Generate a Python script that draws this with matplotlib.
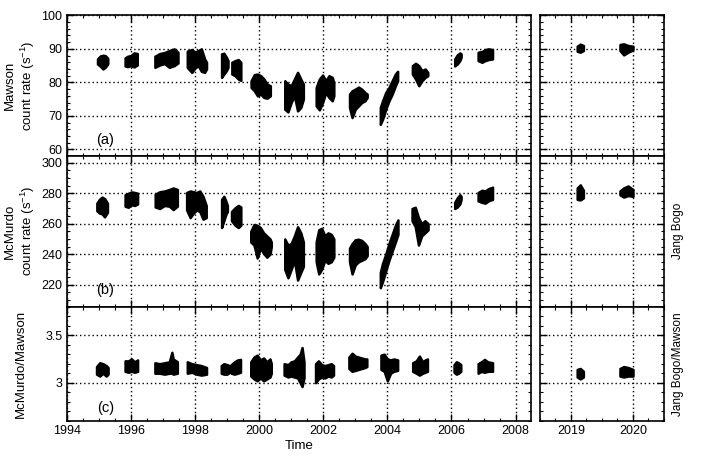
import matplotlib.pyplot as plt
import numpy as np
from matplotlib.ticker import MultipleLocator, FuncFormatter

plt.rcParams['font.family'] = ['Liberation Sans', 'DejaVu Sans']
plt.rcParams['mathtext.fontset'] = 'custom'
plt.rcParams['mathtext.rm'] = 'Liberation Sans'
plt.rcParams['mathtext.default'] = 'regular'

# Each campaign: sample times with lower/upper envelope
# (a) Mawson count rate, 1995-2007
mawson_t = [
    [1994.96, 1995.05, 1995.13, 1995.2, 1995.28],
    [1995.82, 1995.9, 1996.0, 1996.1, 1996.2],
    [1996.75, 1996.9, 1997.05, 1997.2, 1997.35, 1997.47],
    [1997.76, 1997.9, 1998.0, 1998.1, 1998.2, 1998.3, 1998.36],
    [1998.83, 1998.9, 1998.98, 1999.03],
    [1999.15, 1999.25, 1999.35, 1999.43],
    [1999.75, 1999.85, 1999.95, 2000.05, 2000.15, 2000.25, 2000.35],
    [2000.8, 2000.9, 2001.0, 2001.1, 2001.2, 2001.3, 2001.38],
    [2001.78, 2001.88, 2001.98, 2002.08, 2002.18, 2002.28, 2002.33],
    [2002.82, 2002.9, 2003.0, 2003.1, 2003.2, 2003.3, 2003.37],
    [2003.78, 2003.85, 2003.95, 2004.05, 2004.15, 2004.25, 2004.32],
    [2004.78, 2004.88, 2004.98, 2005.08, 2005.18, 2005.26],
    [2006.1, 2006.18, 2006.26, 2006.3],
    [2006.83, 2006.95, 2007.05, 2007.15, 2007.28],
]
mawson_lo = [
    [85.5, 84.8, 84.0, 84.5, 85.5],
    [84.9, 84.7, 85.0, 84.6, 85.2],
    [84.5, 85.2, 85.6, 84.5, 85.0, 85.8],
    [84.5, 83.0, 84.3, 85.0, 83.3, 83.0, 84.0],
    [81.5, 82.5, 83.5, 84.5],
    [82.5, 82.0, 81.0, 80.6],
    [78.5, 77.5, 76.0, 76.5, 75.5, 75.3, 76.0],
    [72.0, 71.2, 74.0, 76.0, 71.5, 72.5, 75.0],
    [73.0, 71.8, 74.0, 77.0, 75.5, 74.5, 76.0],
    [72.5, 69.5, 72.0, 73.0, 74.0, 74.5, 75.5],
    [67.5, 69.0, 72.0, 74.5, 76.5, 79.0, 80.5],
    [82.5, 81.0, 79.0, 80.5, 81.5, 82.0],
    [84.9, 85.5, 86.5, 87.5],
    [86.5, 86.0, 86.5, 86.8, 87.0],
]
mawson_hi = [
    [87.0, 87.9, 88.1, 88.0, 87.2],
    [87.3, 87.8, 88.0, 88.8, 88.6],
    [87.8, 88.6, 88.9, 89.5, 90.0, 89.0],
    [89.3, 89.8, 89.0, 89.5, 90.0, 87.0, 86.0],
    [88.5, 88.7, 87.5, 86.5],
    [86.0, 86.5, 86.8, 86.0],
    [80.5, 82.3, 82.5, 82.0, 81.0, 79.5, 79.0],
    [80.5, 79.5, 79.0, 81.0, 83.0, 81.0, 79.5],
    [78.5, 81.0, 82.2, 80.5, 82.0, 81.5, 80.0],
    [76.5, 77.5, 78.0, 78.6, 78.0, 77.0, 76.5],
    [72.5, 74.5, 77.0, 78.5, 80.5, 82.5, 83.3],
    [85.0, 85.7, 85.0, 83.5, 84.0, 83.0],
    [87.0, 88.2, 88.8, 88.5],
    [89.0, 89.2, 89.8, 90.0, 89.8],
]

# (b) McMurdo count rate (same campaigns)
mcmurdo_t = [
    [1994.94, 1995.02, 1995.1, 1995.18, 1995.27],
    [1995.82, 1995.92, 1996.02, 1996.12, 1996.21],
    [1996.76, 1996.9, 1997.05, 1997.2, 1997.32, 1997.45],
    [1997.74, 1997.85, 1997.95, 1998.05, 1998.15, 1998.25, 1998.35],
    [1998.83, 1998.9, 1998.96, 1999.01],
    [1999.14, 1999.25, 1999.35, 1999.43],
    [1999.74, 1999.84, 1999.94, 2000.04, 2000.14, 2000.24, 2000.34, 2000.38],
    [2000.8, 2000.9, 2001.0, 2001.1, 2001.2, 2001.3, 2001.38],
    [2001.78, 2001.86, 2001.95, 2002.05, 2002.15, 2002.25, 2002.33],
    [2002.82, 2002.9, 2003.0, 2003.1, 2003.2, 2003.3, 2003.37],
    [2003.78, 2003.85, 2003.95, 2004.05, 2004.15, 2004.25, 2004.33],
    [2004.77, 2004.87, 2004.97, 2005.07, 2005.17, 2005.27],
    [2006.1, 2006.18, 2006.26, 2006.3],
    [2006.83, 2006.95, 2007.05, 2007.15, 2007.28],
]
mcmurdo_lo = [
    [268.5, 267, 266.5, 264.5, 267.5],
    [271.5, 270.8, 272.5, 272, 273],
    [271, 270, 272, 271.5, 269.3, 271.5],
    [269, 264.0, 267, 269, 268, 263, 264],
    [257.5, 262, 266, 268],
    [262, 259, 257.5, 259],
    [248, 246, 237.5, 244, 240.5, 238, 240, 245],
    [230, 224.5, 230, 236, 223, 228, 232],
    [235, 227, 230, 236, 234, 235, 238],
    [235, 227, 233, 235, 236, 237, 239],
    [218, 222, 229, 236, 242, 248, 253],
    [262, 258, 246, 252, 254, 256],
    [270, 271, 273, 276],
    [275, 274, 273.5, 275, 276],
]
mcmurdo_hi = [
    [273.5, 276, 277.5, 276.5, 273.5],
    [279, 280, 280.9, 280.5, 280],
    [279.5, 281, 281.5, 282.5, 283.5, 282.5],
    [280.5, 281.5, 281, 280.5, 281.5, 278, 272],
    [276, 278, 275, 272],
    [268, 270.5, 272, 271],
    [255, 259.5, 259, 257.5, 254, 252, 250, 248],
    [250, 246, 247, 252, 258, 254, 248],
    [248, 256, 257, 252, 254, 253, 250],
    [244, 247, 249.5, 249.8, 249, 247, 245],
    [228, 234, 240, 247, 253, 259, 262.5],
    [270, 270.8, 264, 260, 262, 260],
    [274, 277, 279, 278],
    [280.5, 282, 281.5, 283, 284],
]

# (c) McMurdo/Mawson ratio
ratio_t = [
    [1994.93, 1995.03, 1995.13, 1995.23, 1995.29],
    [1995.82, 1995.92, 1996.02, 1996.12, 1996.21],
    [1996.75, 1996.9, 1997.05, 1997.2, 1997.28, 1997.32, 1997.45],
    [1997.76, 1997.9, 1998.05, 1998.2, 1998.36],
    [1998.82, 1998.9, 1999.0, 1999.08],
    [1999.13, 1999.23, 1999.33, 1999.42],
    [1999.74, 1999.84, 1999.94, 2000.04, 2000.14, 2000.24, 2000.34, 2000.38],
    [2000.78, 2000.9, 2001.0, 2001.1, 2001.2, 2001.28, 2001.34, 2001.4],
    [2001.76, 2001.85, 2001.95, 2002.05, 2002.15, 2002.25, 2002.32],
    [2002.8, 2002.9, 2003.0, 2003.1, 2003.2, 2003.3, 2003.36],
    [2003.8, 2003.9, 2004.0, 2004.1, 2004.2, 2004.32],
    [2004.79, 2004.9, 2005.0, 2005.1, 2005.18, 2005.25],
    [2006.08, 2006.15, 2006.22, 2006.29],
    [2006.83, 2006.93, 2007.03, 2007.13, 2007.28],
]
ratio_lo = [
    [3.09, 3.07, 3.10, 3.07, 3.09],
    [3.12, 3.11, 3.12, 3.11, 3.12],
    [3.10, 3.10, 3.09, 3.10, 3.10, 3.09, 3.10],
    [3.10, 3.11, 3.09, 3.08, 3.09],
    [3.10, 3.09, 3.09, 3.11],
    [3.10, 3.09, 3.10, 3.11],
    [3.07, 3.04, 3.02, 3.05, 3.02, 3.04, 3.06, 3.10],
    [3.08, 3.06, 3.07, 3.06, 3.05, 3.00, 2.96, 3.05],
    [3.00, 3.04, 3.06, 3.05, 3.07, 3.06, 3.08],
    [3.15, 3.12, 3.13, 3.14, 3.15, 3.16, 3.17],
    [3.14, 3.12, 3.02, 3.10, 3.12, 3.13],
    [3.12, 3.10, 3.08, 3.10, 3.11, 3.12],
    [3.11, 3.09, 3.10, 3.12],
    [3.10, 3.12, 3.11, 3.12, 3.12],
]
ratio_hi = [
    [3.17, 3.21, 3.20, 3.18, 3.16],
    [3.23, 3.23, 3.25, 3.22, 3.24],
    [3.21, 3.20, 3.21, 3.22, 3.32, 3.25, 3.22],
    [3.22, 3.20, 3.19, 3.18, 3.16],
    [3.18, 3.20, 3.19, 3.18],
    [3.19, 3.22, 3.24, 3.245],
    [3.22, 3.27, 3.29, 3.24, 3.26, 3.22, 3.25, 3.20],
    [3.20, 3.19, 3.22, 3.23, 3.27, 3.30, 3.37, 3.22],
    [3.20, 3.23, 3.19, 3.18, 3.19, 3.20, 3.18],
    [3.27, 3.31, 3.28, 3.27, 3.26, 3.25, 3.25],
    [3.29, 3.30, 3.25, 3.24, 3.25, 3.24],
    [3.21, 3.23, 3.28, 3.22, 3.24, 3.25],
    [3.19, 3.22, 3.21, 3.19],
    [3.20, 3.22, 3.245, 3.22, 3.21],
]

# Jang Bogo period, 2019-2020
jb_t = [[2019.1, 2019.15, 2019.2], [2019.79, 2019.85, 2019.92, 2020.0]]
jb_mawson_lo = [[89.3, 89.0, 89.5], [89.5, 88.2, 89.0, 89.7]]
jb_mawson_hi = [[90.8, 91.4, 91.0], [91.3, 91.5, 91.0, 90.8]]
jb_lo = [[276, 275.6, 277], [279, 277.5, 278.5, 278]]
jb_hi = [[283.5, 285.5, 282], [281.5, 283.5, 284.8, 282.5]]
jb_ratio_lo = [[3.06, 3.04, 3.06], [3.07, 3.06, 3.07, 3.07]]
jb_ratio_hi = [[3.14, 3.15, 3.12], [3.15, 3.17, 3.16, 3.14]]

left_years = list(range(1994, 2009, 2))
right_years = [2019, 2020]

fig = plt.figure(figsize=(7.09, 4.59), dpi=100)

lx, lw_ = 0.0941, 0.6544
rx, rw = 0.7616, 0.1749
rows = [(0.6612, 0.3054), (0.3318, 0.3294), (0.0834, 0.2484)]
ylims = [(58.2, 100), (205.5, 304.8), (2.6, 3.8)]
ymaj = [10, 20, 0.5]
ymin = [2, 5, 0.1]
left_data = [(mawson_t, mawson_lo, mawson_hi),
             (mcmurdo_t, mcmurdo_lo, mcmurdo_hi),
             (ratio_t, ratio_lo, ratio_hi)]
right_data = [(jb_t, jb_mawson_lo, jb_mawson_hi),
              (jb_t, jb_lo, jb_hi),
              (jb_t, jb_ratio_lo, jb_ratio_hi)]
plain = FuncFormatter(lambda v, p: f'{v:g}')


def style(ax):
    ax.tick_params(which='both', direction='in', top=True, right=True,
                   labelsize=9, pad=3)
    ax.tick_params(which='major', length=5, width=1)
    ax.tick_params(which='minor', length=2.5, width=0.8)
    ax.grid(True, which='major', linestyle=(0, (1, 2)), color='k', linewidth=1)
    for s in ax.spines.values():
        s.set_linewidth(1.2)


for i, (b, h) in enumerate(rows):
    axl = fig.add_axes([lx, b, lw_, h])
    axr = fig.add_axes([rx, b, rw, h])
    for ax, (ts, los, his) in ((axl, left_data[i]), (axr, right_data[i])):
        for t, lo, hi in zip(ts, los, his):
            ax.fill_between(t, lo, hi, color='k', lw=1.8, edgecolor='k',
                            joinstyle='round', zorder=3)
        ax.set_ylim(*ylims[i])
        ax.yaxis.set_major_locator(MultipleLocator(ymaj[i]))
        ax.yaxis.set_minor_locator(MultipleLocator(ymin[i]))
        ax.xaxis.set_major_formatter(plain)
        style(ax)
    axl.set_xlim(1994, 2008.47)
    axl.set_xticks(left_years)
    axl.xaxis.set_minor_locator(MultipleLocator(0.5))
    axr.set_xlim(2018.5, 2020.5)
    axr.set_xticks(right_years)
    axr.xaxis.set_minor_locator(MultipleLocator(0.25))
    axr.tick_params(labelleft=False)
    axl.yaxis.set_major_formatter(plain)
    if i < 2:
        axl.tick_params(labelbottom=False)
        axr.tick_params(labelbottom=False)
    else:
        axl.set_xlabel('Time', fontsize=9.5)
        axl.xaxis.set_label_coords(0.5, -0.17)
    axl.text(0.083, 0.11, '(' + 'abc'[i] + ')', transform=axl.transAxes,
             fontsize=10.5, va='center', ha='center')

fig.text(20.5 / 709, 1 - 85.4 / 459, 'Mawson\ncount rate (s$^{-1}$)', rotation=90,
         ha='center', va='center', fontsize=9.5, multialignment='center')
fig.text(20.5 / 709, 1 - 231 / 459, 'McMurdo\ncount rate (s$^{-1}$)', rotation=90,
         ha='center', va='center', fontsize=9.5, multialignment='center')
fig.text(20.5 / 709, 1 - 363.7 / 459, 'McMurdo/Mawson', rotation=90,
         ha='center', va='center', fontsize=9.5)
fig.text(678 / 709, 1 - 231 / 459, 'Jang Bogo', rotation=90,
         ha='center', va='center', fontsize=8.5)
fig.text(678 / 709, 1 - 363.7 / 459, 'Jang Bogo/Mawson', rotation=90,
         ha='center', va='center', fontsize=8.5)

fig.savefig('out.png', dpi=100)
